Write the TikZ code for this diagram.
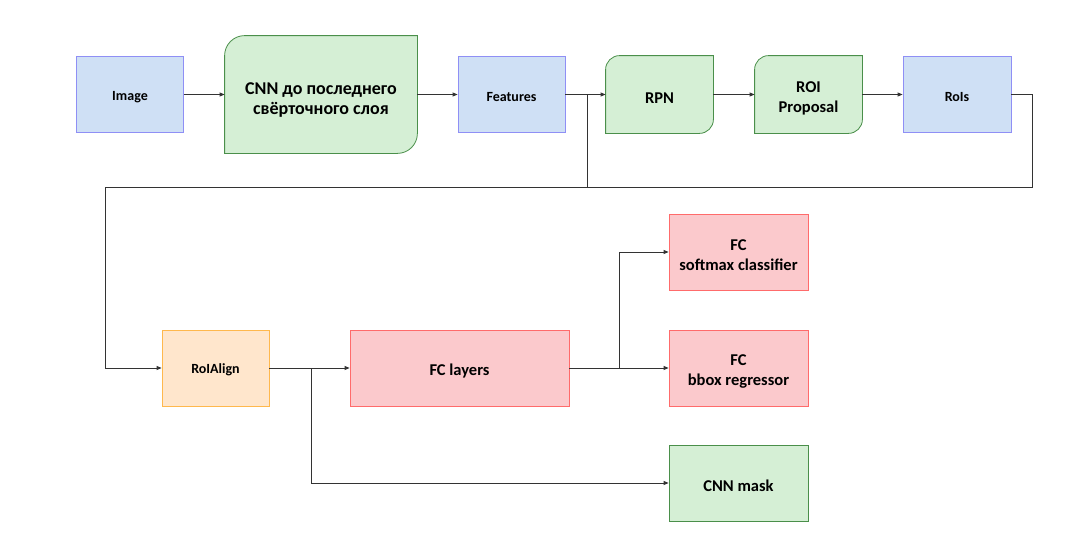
\documentclass[tikz,border=0pt]{standalone}
\usepackage{fontspec}
\setmainfont{Carlito}
\usetikzlibrary{arrows.meta, backgrounds}
\definecolor{blueFill}{HTML}{CFE0F5}
\definecolor{blueLine}{HTML}{8F8FF5}
\definecolor{greenFill}{HTML}{D5EFD5}
\definecolor{greenLine}{HTML}{4A8F4A}
\definecolor{redFill}{HTML}{FBC9CC}
\definecolor{redLine}{HTML}{FF6B6B}
\definecolor{orangeFill}{HTML}{FFE6CC}
\definecolor{orangeLine}{HTML}{FFB84D}

\begin{document}
\begin{tikzpicture}[x=1pt, y=-1pt,
    box/.style={minimum width=107pt, minimum height=76pt, inner sep=2pt, align=center,
        line width=0.8pt, font=\fontsize{14}{17}\selectfont\bfseries,
        execute at begin node={\rule{0pt}{14pt}}},
    bigtext/.style={font=\fontsize{16.5}{20}\selectfont\bfseries,
        execute at begin node={\rule{0pt}{17pt}}},
    bluebox/.style={box, draw=blueLine, fill=blueFill},
    orangebox/.style={box, draw=orangeLine, fill=orangeFill},
    redbox/.style={box, bigtext, draw=redLine, fill=redFill},
    greenbox/.style={box, bigtext, draw=greenLine, fill=greenFill},
    cardbox/.style={box, bigtext}, % outline drawn on the background layer
    wire/.style={line width=0.8pt, draw=black!80},
    link/.style={wire, -{Stealth[length=5pt, width=4pt, inset=0pt]}}
]
    \useasboundingbox (0,0) rectangle (1083,557);

    % Top row: backbone and region proposals
    \node[bluebox] (image) at (130,94.5) {Image};
    \node[cardbox, minimum width=192pt, minimum height=117pt,
        font=\fontsize{18}{20}\selectfont\bfseries] (cnn) at (321,94.5)
        {\rule{0pt}{23pt}CNN до последнего\\свёрточного слоя};
    \node[bluebox] (features) at (511.5,94.5) {Features};
    \node[cardbox, minimum height=77pt] (rpn) at (659.5,94.5) {RPN};
    \node[cardbox, minimum height=77pt] (roiprop) at (808.5,94.5) {\rule{0pt}{19pt}ROI\\Proposal};
    \node[bluebox, minimum width=108pt] (rois) at (957,94.5) {RoIs};

    % Card outlines (rounded top left and bottom right)
    \begin{scope}[on background layer]
        \foreach \n/\r in {cnn/20pt, rpn/14pt, roiprop/14pt}
            \draw[line width=0.8pt, draw=greenLine, fill=greenFill]
                (\n.south west) -- ([yshift=-\r]\n.north west)
                arc[start angle=180, end angle=90, radius=\r] -- (\n.north east)
                -- ([yshift=\r]\n.south east)
                arc[start angle=0, end angle=-90, radius=\r] -- cycle;
    \end{scope}

    % Bottom row: heads
    \node[orangebox] (roialign) at (215.5,368) {RoIAlign};
    \node[redbox, minimum width=219pt] (fclayers) at (459.5,368) {FC layers};
    \node[redbox, minimum width=139pt] (softmax) at (738.5,252) {\rule{0pt}{17pt}FC\\softmax classifier};
    \node[redbox, minimum width=139pt] (bbox) at (738.5,368) {\rule{0pt}{17pt}FC\\bbox regressor};
    \node[greenbox, minimum width=139pt] (mask) at (738.5,483) {CNN mask};

    % Junction points of the connectors
    \coordinate (splitfeat) at (587,187);
    \coordinate (corner) at (105,187);
    \coordinate (splitrois) at (1032,187);
    \coordinate (splitalign) at (311,368);
    \coordinate (splitfc) at (619,368);

    % Connectors
    \draw[link] (image) -- (cnn);
    \draw[link] (cnn) -- (features);
    \draw[link] (features) -- (rpn);
    \draw[link] (rpn) -- (roiprop);
    \draw[link] (roiprop) -- (rois);
    \draw[link] (features.east) -| (splitfeat) -- (corner) |- (roialign.west);
    \draw[wire] (rois.east) -| (splitrois) -- (splitfeat);
    \draw[link] (roialign) -- (fclayers);
    \draw[link] (roialign.east) -- (splitalign) |- (mask.west);
    \draw[link] (fclayers) -- (bbox);
    \draw[link] (fclayers.east) -- (splitfc) |- (softmax.west);
\end{tikzpicture}
\end{document}
